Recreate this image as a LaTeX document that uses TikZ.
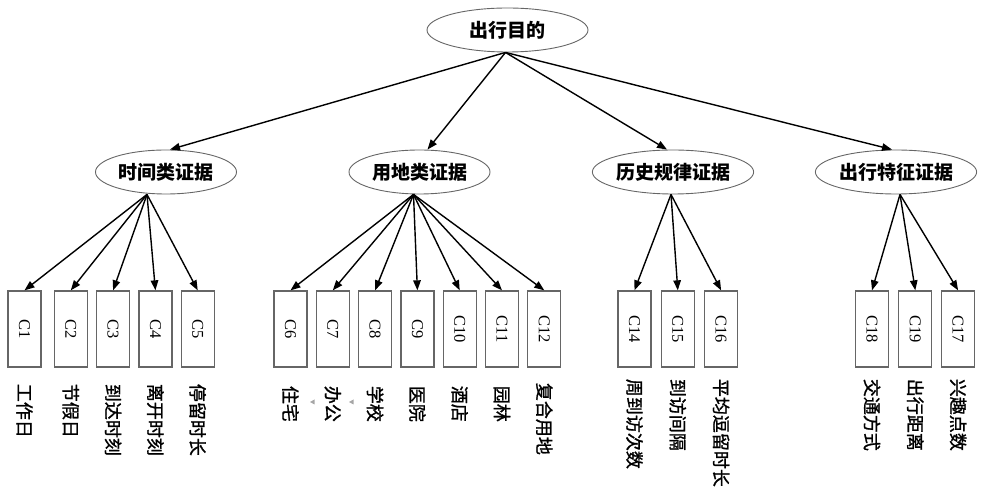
\documentclass[tikz,border=0pt]{standalone}
\usepackage{graphicx}
\usepackage{fontspec}
\setmainfont{Liberation Serif}
\newfontfamily\cjk{Noto Sans CJK SC}
\newfontfamily\cjkleaf[FakeBold=1.2]{Noto Sans CJK SC}
\usetikzlibrary{arrows.meta,positioning,shapes.geometric}

\begin{document}
\begin{tikzpicture}[
  x=1pt, y=1pt,
  goal/.style={draw=black!60, ellipse, line width=0.9pt, minimum width=161pt, minimum height=44pt,
               inner sep=0pt, font=\cjk\bfseries\fontsize{19}{21}\selectfont},
  ev/.style={goal, minimum width=141pt},
  ind/.style={draw=black!60, line width=1.3pt, minimum width=33pt, minimum height=76pt,
              inner sep=0pt, font=\fontsize{16.5}{18}\selectfont},
  lbl/.style={rotate=-90, anchor=west, inner sep=0pt, font=\cjkleaf\fontsize{18}{20}\selectfont},
  arr/.style={-{Triangle[length=10pt, width=7.5pt]}, line width=1.4pt, black}
]
\useasboundingbox (0,0) rectangle (988,500);

\node[goal] (goal) at (507.5,470) {出行目的};

\node[ev] (time) at (166,328) {时间类证据};
\node[ev] (land) at (419.5,328) {用地类证据};
\node[ev] (hist) at (673,328) {历史规律证据};
\node[ev] (trip) at (896,328) {出行特征证据};

\draw[arr] ([xshift=-2pt]goal.south) -- ([xshift=4pt]time.north);
\draw[arr] ([xshift=-2pt]goal.south) -- ([xshift=8pt]land.north);
\draw[arr] ([xshift=-2pt]goal.south) -- ([xshift=-6pt]hist.north);
\draw[arr] ([xshift=-2pt]goal.south) -- ([xshift=-4pt]trip.north);

% time evidence
\node[ind] (c1) at (24.5,171) {\rotatebox{-90}{C1}};
\node[ind, right=12pt of c1] (c2) {\rotatebox{-90}{C2}};
\node[ind, right=8pt of c2] (c3) {\rotatebox{-90}{C3}};
\node[ind, right=8pt of c3] (c4) {\rotatebox{-90}{C4}};
\node[ind, right=8pt of c4] (c5) {\rotatebox{-90}{C5}};

% land use evidence
\node[ind] (c6) at (290.5,171) {\rotatebox{-90}{C6}};
\node[ind, right=8pt of c6] (c7) {\rotatebox{-90}{C7}};
\node[ind, right=8pt of c7] (c8) {\rotatebox{-90}{C8}};
\node[ind, right=8pt of c8] (c9) {\rotatebox{-90}{C9}};
\node[ind, right=8pt of c9] (c10) {\rotatebox{-90}{C10}};
\node[ind, right=8pt of c10] (c11) {\rotatebox{-90}{C11}};
\node[ind, right=8pt of c11] (c12) {\rotatebox{-90}{C12}};

% history evidence
\node[ind] (c14) at (634.5,171) {\rotatebox{-90}{C14}};
\node[ind, right=9pt of c14] (c15) {\rotatebox{-90}{C15}};
\node[ind, right=9pt of c15] (c16) {\rotatebox{-90}{C16}};

% trip evidence
\node[ind] (c18) at (872,171) {\rotatebox{-90}{C18}};
\node[ind, right=9pt of c18] (c19) {\rotatebox{-90}{C19}};
\node[ind, right=8.5pt of c19] (c17) {\rotatebox{-90}{C17}};

\draw[arr] ([xshift=-19pt]time.south) -- (c1.north);
\draw[arr] ([xshift=-19pt]time.south) -- (c2.north);
\draw[arr] ([xshift=-19pt]time.south) -- (c3.north);
\draw[arr] ([xshift=-19pt]time.south) -- (c4.north);
\draw[arr] ([xshift=-19pt]time.south) -- (c5.north);

\draw[arr] ([xshift=-6pt]land.south) -- (c6.north);
\draw[arr] ([xshift=-6pt]land.south) -- (c7.north);
\draw[arr] ([xshift=-6pt]land.south) -- (c8.north);
\draw[arr] ([xshift=-6pt]land.south) -- (c9.north);
\draw[arr] ([xshift=-6pt]land.south) -- (c10.north);
\draw[arr] ([xshift=-6pt]land.south) -- (c11.north);
\draw[arr] ([xshift=-6pt]land.south) -- (c12.north);

\draw[arr] ([xshift=-2pt]hist.south) -- (c14.north);
\draw[arr] ([xshift=-2pt]hist.south) -- (c15.north);
\draw[arr] ([xshift=-2pt]hist.south) -- (c16.north);

\draw[arr] ([xshift=4pt]trip.south) -- (c18.north);
\draw[arr] ([xshift=4pt]trip.south) -- (c19.north);
\draw[arr] ([xshift=4pt]trip.south) -- (c17.north);

% indicator names
\node[lbl] (l1) at ([yshift=-16pt]c1.south) {工作日};
\node[lbl] (l2) at ([yshift=-16pt]c2.south) {节假日};
\node[lbl] (l3) at ([yshift=-16pt]c3.south) {到达时刻};
\node[lbl] (l4) at ([yshift=-16pt]c4.south) {离开时刻};
\node[lbl] (l5) at ([yshift=-16pt]c5.south) {停留时长};
\node[lbl] (l6) at ([yshift=-18pt]c6.south) {住宅};
\node[lbl] (l7) at ([yshift=-18pt]c7.south) {办公};
\node[lbl] (l8) at ([yshift=-18pt]c8.south) {学校};
\node[lbl] (l9) at ([yshift=-18pt]c9.south) {医院};
\node[lbl] (l10) at ([yshift=-18pt]c10.south) {酒店};
\node[lbl] (l11) at ([yshift=-18pt]c11.south) {园林};
\node[lbl] (l12) at ([yshift=-15pt]c12.south) {复合用地};
\node[lbl] (l14) at ([yshift=-11pt]c14.south) {周到访次数};
\node[lbl] (l15) at ([yshift=-11pt]c15.south) {到访间隔};
\node[lbl] (l16) at ([yshift=-11pt]c16.south) {平均逗留时长};
\node[lbl] (l18) at ([yshift=-11pt]c18.south) {交通方式};
\node[lbl] (l19) at ([yshift=-11pt]c19.south) {出行距离};
\node[lbl] (l17) at ([yshift=-11pt]c17.south) {兴趣点数};

% faint marks between labels
\fill[black!35] (314.5,100.5) -- (310,98) -- (314.5,95.5) -- cycle;
\fill[black!35] (353.5,100.5) -- (349,98) -- (353.5,95.5) -- cycle;
\end{tikzpicture}
\end{document}
